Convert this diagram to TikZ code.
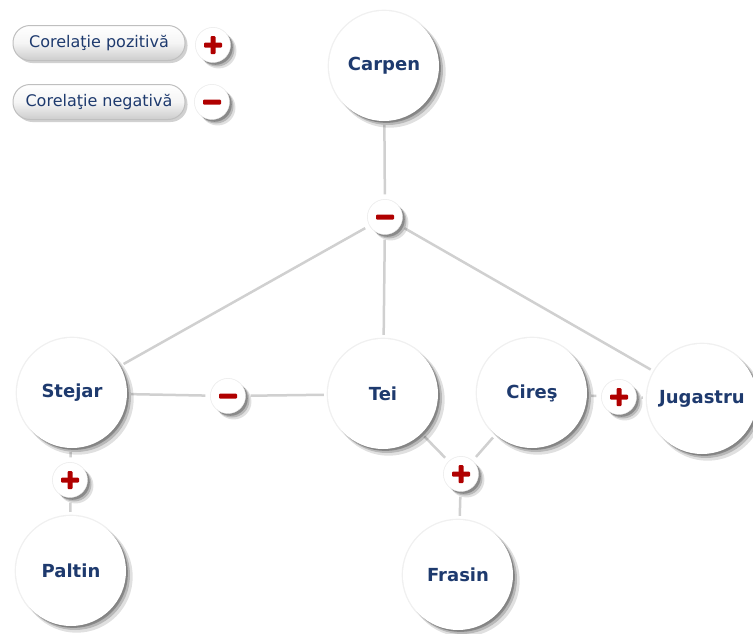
\documentclass[tikz,border=0pt]{standalone}
\usepackage{fontspec}
\setmainfont{DejaVu Sans}
\usetikzlibrary{shadows}
\usetikzlibrary{backgrounds}
\definecolor{treeblue}{HTML}{1E3A6E}
\definecolor{signred}{HTML}{B00000}
\definecolor{linkgray}{HTML}{D0D0D0}
\tikzset{
  softshadow/.style={
    general shadow={fill=black, opacity=.06, shadow scale=1.025},
    general shadow={fill=black, opacity=.12, shadow xshift=5.5pt, shadow yshift=-5.5pt, shadow scale=1.02},
    general shadow={fill=black, opacity=.18, shadow xshift=4pt, shadow yshift=-4pt},
    general shadow={fill=black, opacity=.25, shadow xshift=2.5pt, shadow yshift=-2.5pt, shadow scale=.99}},
  tree/.style={circle, fill=white, minimum size=110pt, inner sep=0pt, softshadow,
    text=treeblue, font=\fontsize{18}{20}\selectfont\bfseries},
  badge/.style={circle, fill=white, draw=black!8, minimum size=35pt, inner sep=0pt, softshadow},
  negbadge/.style={badge, path picture={
    \fill[signred, rounded corners=1pt] (path picture bounding box.center) ++(-9pt,-2.5pt) rectangle ++(18pt,5pt);}},
  posbadge/.style={badge, path picture={
    \fill[signred, rounded corners=1pt] (path picture bounding box.center) ++(-9pt,-2.5pt) rectangle ++(18pt,5pt);
    \fill[signred, rounded corners=1pt] (path picture bounding box.center) ++(-2.5pt,-9pt) rectangle ++(5pt,18pt);}},
  link/.style={draw=linkgray, line width=2.5pt, shorten <=5pt, shorten >=4pt},
  pill/.style={rounded corners=17pt, minimum width=172pt, minimum height=35pt, inner sep=0pt,
    top color=white, bottom color=black!20, middle color=black!4, draw=black!25, line width=1pt,
    general shadow={fill=black, opacity=.18, shadow xshift=2.5pt, shadow yshift=-2.5pt},
    text=treeblue, font=\fontsize{16}{18}\selectfont}
}
\begin{document}
\begin{tikzpicture}[x=1pt, y=-1pt]
  \useasboundingbox (0,0) rectangle (753,633);
  \clip (0,0) rectangle (753,633);

  \node[pill] (legpos) at (99,43) {Corelaţie pozitivă};
  \node[posbadge] (legposb) at (213,45) {};
  \node[pill] (legneg) at (99,102) {Corelaţie negativă};
  \node[negbadge] (legnegb) at (212,102) {};

  \node[tree] (carpen) at (384,66) {Carpen};
  \node[tree] (stejar) at (72,393) {Stejar};
  \node[tree] (tei) at (383,394) {Tei};
  \node[tree] (cires) at (532,393) {Cireş};
  \node[tree] (jugastru) at (702,399) {Jugastru};
  \node[tree] (paltin) at (71,571) {Paltin};
  \node[tree] (frasin) at (458,575) {Frasin};

  \node[negbadge] (neg1) at (385,217) {};
  \node[negbadge] (neg2) at (228,396) {};
  \node[posbadge] (pos1) at (70,480) {};
  \node[posbadge] (pos2) at (461,474) {};
  \node[posbadge] (pos3) at (619,397) {};

  \begin{scope}[on background layer]
    \path[link] (neg1) edge (carpen) edge (stejar) edge (tei) edge (jugastru);
    \path[link] (neg2) edge (stejar) edge (tei);
    \path[link] (pos1) edge (stejar) edge (paltin);
    \path[link] (pos2) edge (tei) edge (cires) edge (frasin);
    \path[link] (pos3) edge (cires) edge (jugastru);
  \end{scope}
\end{tikzpicture}
\end{document}
